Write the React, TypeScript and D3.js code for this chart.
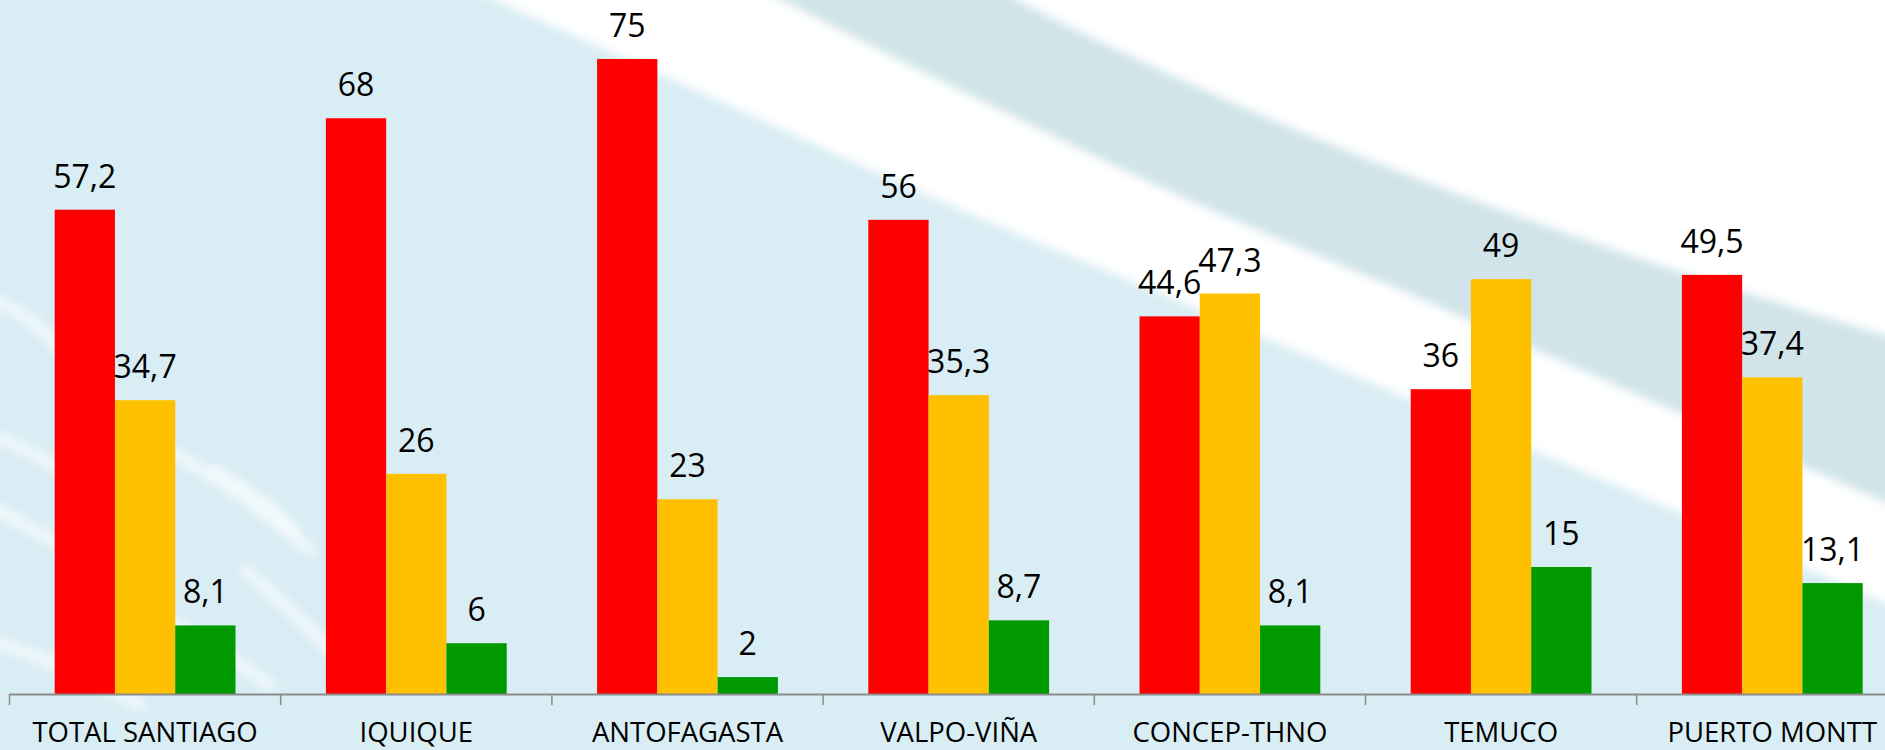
import { useRef, useEffect } from "react";
import * as d3 from "d3";

const categories = [
  "TOTAL SANTIAGO",
  "IQUIQUE",
  "ANTOFAGASTA",
  "VALPO-VIÑA",
  "CONCEP-THNO",
  "TEMUCO",
  "PUERTO MONTT",
];
const seriesNames = ["rojo", "amarillo", "verde"];
const seriesColors = ["#ff0000", "#ffc000", "#009900"];
const redValues = [57.2, 68, 75, 56, 44.6, 36, 49.5];
const yellowValues = [34.7, 26, 23, 35.3, 47.3, 49, 37.4];
const greenValues = [8.1, 6, 2, 8.7, 8.1, 15, 13.1];

// background swooshes (decoration only)
const whiteLowerEdge: [number, number][] = [
  [385, -50], [495, 0], [700, 92], [950, 205], [1200, 310], [1400, 395], [1650, 500], [1885, 603], [1980, 645],
];
const grayLowerEdge: [number, number][] = [
  [690, -50], [782, 0], [1000, 110], [1200, 205], [1400, 290], [1650, 400], [1885, 502], [1980, 545],
];
const grayUpperEdge: [number, number][] = [
  [930, -50], [1017, 0], [1200, 88], [1400, 172], [1650, 262], [1885, 335], [1980, 362],
];
const streaks: [number, number][][] = [
  [[-10, 298], [30, 320], [62, 350]],
  [[-10, 433], [30, 452], [72, 476]],
  [[165, 448], [240, 495], [310, 550]],
  [[215, 470], [260, 500], [295, 530]],
  [[-10, 506], [60, 545], [120, 585]],
  [[245, 570], [290, 610], [330, 650]],
  [[-10, 640], [70, 670], [140, 705]],
  [[150, 610], [210, 645], [270, 685]],
];

export default function App() {
  const svgRef = useRef<SVGSVGElement>(null);

  useEffect(() => {
    if (!svgRef.current) return;
    const svg = d3.select(svgRef.current);
    svg.selectAll("*").remove();

    const width = 1885;
    const height = 750;
    const baseline = 694;

    svg.attr("width", width).attr("height", height).attr("viewBox", `0 0 ${width} ${height}`);

    const defs = svg.append("defs");
    defs
      .append("filter")
      .attr("id", "soft")
      .attr("x", "-20%")
      .attr("y", "-20%")
      .attr("width", "140%")
      .attr("height", "140%")
      .append("feGaussianBlur")
      .attr("stdDeviation", 5);
    defs
      .append("filter")
      .attr("id", "softer")
      .append("feGaussianBlur")
      .attr("stdDeviation", 5);

    // Background
    svg.append("rect").attr("width", width).attr("height", height).attr("fill", "#d9edf4");

    const edge = d3.line().curve(d3.curveCatmullRom);
    const upperRegion = (pts: [number, number][]) =>
      `${edge(pts)}L2000,-80L${pts[0][0] - 50},-80Z`;

    const bg = svg.append("g");
    bg.append("path").attr("d", upperRegion(whiteLowerEdge)).attr("fill", "#ffffff").attr("filter", "url(#soft)");
    bg.append("path").attr("d", upperRegion(grayLowerEdge)).attr("fill", "#d0e4e9").attr("filter", "url(#soft)");
    bg.append("path").attr("d", upperRegion(grayUpperEdge)).attr("fill", "#ffffff").attr("filter", "url(#soft)");

    bg.selectAll(".streak")
      .data(streaks)
      .enter()
      .append("path")
      .attr("d", (d) => edge(d))
      .attr("fill", "none")
      .attr("stroke", "#ffffff")
      .attr("stroke-width", 12)
      .attr("stroke-linecap", "round")
      .attr("opacity", 0.6)
      .attr("filter", "url(#softer)");

    // Scales
    const x0 = d3
      .scaleBand()
      .domain(categories)
      .range([9.5, 9.5 + categories.length * 271.2]);

    const x1 = d3
      .scaleBand()
      .domain(seriesNames)
      .range([0, x0.bandwidth()])
      .paddingInner(0)
      .paddingOuter(0.75);

    const y = d3.scaleLinear().domain([0, 80]).range([baseline, baseline - 80 * 8.467]);

    const series = seriesNames.map((name, i) => ({
      name,
      color: seriesColors[i],
      values: [redValues, yellowValues, greenValues][i],
    }));

    const rows = categories.flatMap((cat, ci) =>
      series.map((s) => ({ cat, name: s.name, color: s.color, value: s.values[ci] }))
    );

    const g = svg.append("g");

    // Bars
    g.selectAll(".bar")
      .data(rows)
      .enter()
      .append("rect")
      .attr("class", "bar")
      .attr("x", (d) => (x0(d.cat) || 0) + (x1(d.name) || 0))
      .attr("y", (d) => y(d.value))
      .attr("width", x1.bandwidth())
      .attr("height", (d) => baseline - y(d.value))
      .attr("fill", (d) => d.color);

    // Value labels
    g.selectAll(".label")
      .data(rows)
      .enter()
      .append("text")
      .attr("x", (d) => (x0(d.cat) || 0) + (x1(d.name) || 0) + x1.bandwidth() / 2)
      .attr("y", (d) => y(d.value) - 22)
      .attr("text-anchor", "middle")
      .attr("font-family", "'Open Sans', sans-serif")
      .attr("font-size", "32px")
      .attr("fill", "#000")
      .text((d) => String(d.value).replace(".", ","));

    // X axis
    const axis = svg.append("g");
    axis
      .append("line")
      .attr("x1", 9.5)
      .attr("x2", width)
      .attr("y1", baseline + 0.5)
      .attr("y2", baseline + 0.5)
      .attr("stroke", "#8c8c8c")
      .attr("stroke-width", 2);

    axis
      .selectAll(".tick")
      .data(categories)
      .enter()
      .append("line")
      .attr("x1", (d) => x0(d) || 0)
      .attr("x2", (d) => x0(d) || 0)
      .attr("y1", baseline)
      .attr("y2", baseline + 11)
      .attr("stroke", "#8c8c8c")
      .attr("stroke-width", 1.5);

    axis
      .selectAll(".cat")
      .data(categories)
      .enter()
      .append("text")
      .attr("x", (d) => (x0(d) || 0) + x0.bandwidth() / 2)
      .attr("y", 742)
      .attr("text-anchor", "middle")
      .attr("font-family", "'Open Sans', sans-serif")
      .attr("font-size", "27.5px")
      .attr("fill", "#000")
      .text((d) => d);
  }, []);

  return (
    <>
      <style>{"body{margin:0;overflow:hidden}"}</style>
      <svg ref={svgRef} style={{ display: "block" }} />
    </>
  );
}
